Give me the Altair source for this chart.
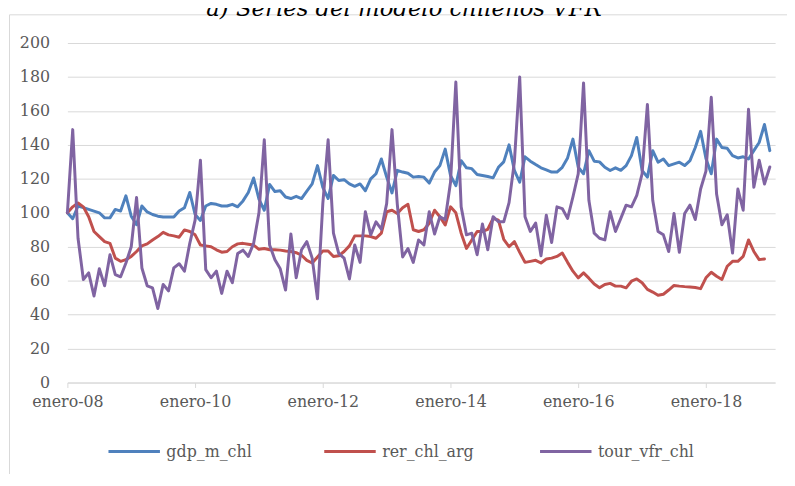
import altair as alt
import pandas as pd

series_names = ["gdp_m_chl", "rer_chl_arg", "tour_vfr_chl"]
series_colors = ["#4F81BD", "#C0504D", "#8064A2"]

# monthly values, enero-2008 onwards
gdp_m_chl = [
    100, 96.5, 104, 103, 102, 101, 100, 97, 97, 102, 101, 110,
    98, 93, 104, 100.5, 99, 98, 97.5, 97.5, 97.5, 101, 103, 112,
    99, 95.5, 104, 105.5, 105, 104, 104, 105, 103.5, 107, 112, 120.5,
    108, 101.5, 116.7, 112.5, 113, 109.3, 108.4, 109.7, 108.4, 112.8, 117, 127.8,
    115, 108.4, 122, 119, 119.5, 117, 115.6, 117, 113, 120, 123, 131.7,
    121, 111.7, 125, 124, 123.3, 121, 121.4, 121, 117.5, 124, 127.8, 137.5,
    122, 116, 130.7, 126.5, 126, 122.6, 122, 121.4, 120.6, 126.8, 130, 140,
    125, 118, 133, 130.4, 128.4, 126.5, 125.3, 124, 124, 126.8, 132.3, 143.4,
    126.8, 123, 136.6, 130.4, 130, 126.8, 124.9, 126.5, 125, 127.8, 133.7, 144.4,
    124.9, 121, 136.6, 129.8, 131.7, 127.8, 128.8, 129.8, 127.8, 130.7, 138.5, 148,
    132, 123, 143.4, 138.5, 138, 133.7, 132.3, 133, 131.7, 136.6, 141.4, 152,
    136.6,
]

rer_chl_arg = [
    100, 103.5, 105.8, 103.5, 97.7, 89, 86, 83, 82, 73.3, 71.4, 72.4,
    74.3, 77.2, 80.5, 81.7, 84, 86, 88.5, 87, 86.4, 85.6, 89.9, 89,
    87, 81, 80.5, 80, 78.2, 76.8, 77.2, 80, 81.7, 82, 81.5, 81,
    78.5, 79, 78.2, 78.2, 78, 77.5, 77.2, 76.5, 75, 72, 70.4, 74,
    77.5, 77.5, 74.3, 74.7, 77.2, 80.5, 86.4, 86.4, 86.4, 86, 85, 88,
    100.6, 101.5, 99.6, 103, 105, 90, 89, 90, 93.8, 101.5, 97.7, 92.8,
    103.5, 100, 88, 79, 84, 89, 89, 90.3, 96.7, 95.7, 84.4, 80,
    83, 76.7, 70.8, 71.4, 72, 70.4, 72.8, 73.3, 74.3, 76.3, 70.8, 65.6,
    61.7, 64.6, 61.5, 58, 55.8, 57.8, 58.4, 56.8, 56.8, 55.8, 59.7, 61,
    58.8, 54.9, 53.3, 51.4, 52, 54.5, 57.2, 56.8, 56.5, 56.3, 56, 55.3,
    61.7, 65, 62.6, 60.7, 68.5, 71.4, 71.4, 74.3, 84, 77.2, 72.4, 72.8,
]

tour_vfr_chl = [
    100, 149, 85, 60.7, 64.6, 51, 67, 57, 75.3, 63.6, 62.3, 70.4,
    80, 109, 67.5, 57, 55.8, 43.6, 57.8, 54, 67.5, 70, 65.6, 82,
    95.7, 131, 66.5, 61.7, 65.6, 52.5, 65.6, 58.8, 76, 78, 74.3, 82,
    100, 143, 81, 72.4, 67, 54.5, 87.5, 61.7, 78.2, 83, 73.3, 49.4,
    105.4, 143, 88, 76, 73.3, 61, 81, 70.8, 100.6, 87, 94.7, 90.3,
    105.4, 149, 105, 74, 79, 70.8, 84, 81, 100.6, 87.5, 97.7, 96,
    118, 177, 103.5, 87, 88, 75.3, 93.4, 78.2, 97.7, 94.7, 94.7, 106,
    130, 180, 97.7, 89, 94, 74.7, 98.6, 82.5, 103.5, 102.5, 96.7, 109.3,
    123, 176.5, 107.4, 88, 85, 84, 100.6, 89, 96.7, 104.5, 103.5, 110.3,
    123, 163.8, 107.4, 89, 87, 77.2, 99.6, 76.7, 99.6, 104.5, 96, 114,
    124.5, 168, 111, 93, 98.8, 76.3, 114, 101.5, 161, 115, 131, 117,
    127,
]

x_tick_months = [0, 24, 48, 72, 96, 120]
x_tick_labels = ["enero-08", "enero-10", "enero-12", "enero-14", "enero-16", "enero-18"]
y_ticks = [0, 20, 40, 60, 80, 100, 120, 140, 160, 180, 200]
title_text = "a) Series del modelo chilenos VFR"

rows = []
for name, vals in zip(series_names, [gdp_m_chl, rer_chl_arg, tour_vfr_chl]):
    for i, v in enumerate(vals):
        rows.append({"mes": i, "valor": v, "serie": name})
df = pd.DataFrame(rows)

label_expr = ""
for m, lab in zip(x_tick_months, x_tick_labels):
    label_expr += f"datum.value == {m} ? '{lab}' : "
label_expr += "''"

W, H = 715, 343
TXT = "#595959"
GRID = "#d9d9d9"
FONT = "DejaVu Serif"

lines = alt.Chart(df).mark_line(strokeWidth=3, strokeJoin="round", strokeCap="round").encode(
    x=alt.X(
        "mes:Q",
        scale=alt.Scale(domain=[0, 133], nice=False, zero=False),
        axis=alt.Axis(
            values=x_tick_months, labelExpr=label_expr, grid=False, ticks=True,
            tickSize=5, tickColor=GRID, domainColor=GRID, labelFont=FONT,
            labelFontSize=16, labelColor=TXT, labelPadding=6, labelFlush=False,
            labelOverlap=False, title=None,
        ),
    ),
    y=alt.Y(
        "valor:Q",
        scale=alt.Scale(domain=[0, 200], nice=False),
        axis=alt.Axis(
            values=y_ticks, domain=False, ticks=False, grid=True, gridColor=GRID,
            labelFont=FONT, labelFontSize=16, labelColor=TXT, labelPadding=18,
            title=None,
        ),
    ),
    color=alt.Color(
        "serie:N",
        scale=alt.Scale(domain=series_names, range=series_colors),
        legend=alt.Legend(
            orient="none", legendX=40, legendY=385, direction="horizontal",
            title=None, symbolType="stroke", symbolSize=2704, symbolStrokeWidth=3,
            labelFont=FONT, labelFontSize=16, labelColor=TXT, labelOffset=5,
            columnPadding=55, gridAlign="all",
        ),
    ),
)

border = alt.Chart(pd.DataFrame({"a": [0]})).mark_rect(
    fillOpacity=0, stroke=GRID, strokeWidth=1
).encode(
    x=alt.value(-58.5), y=alt.value(-28.5), x2=alt.value(900), y2=alt.value(700)
)

title = alt.Chart(pd.DataFrame({"t": [title_text]})).mark_text(
    font=FONT, fontStyle="italic", fontSize=23, align="center",
    baseline="alphabetic", color="#000000"
).encode(text="t:N", x=alt.value(340), y=alt.value(-27))

chart = alt.layer(border, lines, title).properties(
    width=W, height=H,
    padding={"left": 60, "top": 33, "right": 12, "bottom": 90},
    autosize=alt.AutoSizeParams(type="none"),
).configure_view(stroke=None)

chart.save("out.html", embed_options={"renderer": "svg", "actions": False})
